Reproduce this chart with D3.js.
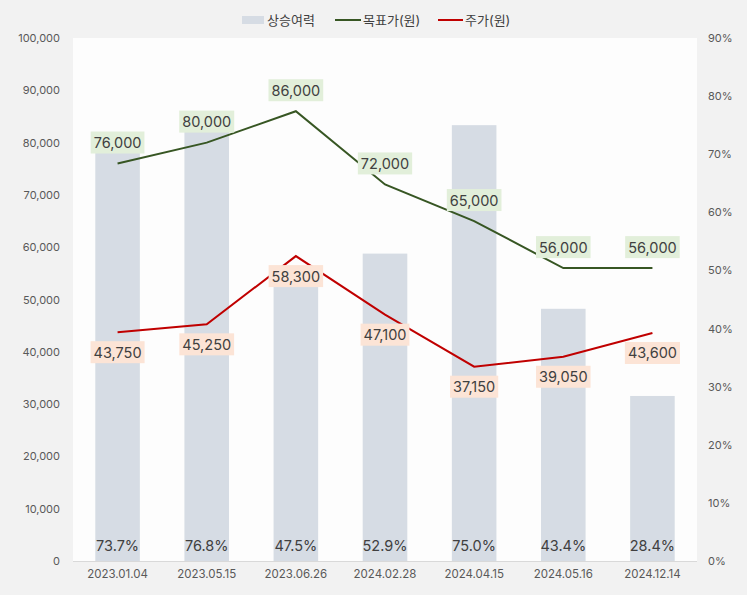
<!DOCTYPE html>
<html><head><meta charset="utf-8">
<script src="https://cdn.jsdelivr.net/npm/d3@7"></script>
<style>
body{margin:0;background:#f2f2f2;}
svg{display:block;font-family:Inter,"Noto Sans CJK KR",sans-serif;}
</style></head>
<body><svg id="c" width="747" height="595"></svg>
<script>
const categories = ["2023.01.04","2023.05.15","2023.06.26","2024.02.28","2024.04.15","2024.05.16","2024.12.14"];
const upside = [73.7,76.8,47.5,52.9,75.0,43.4,28.4];
const target = [76000,80000,86000,72000,65000,56000,56000];
const price = [43750,45250,58300,47100,37150,39050,43600];
const leftTicks = [0,10000,20000,30000,40000,50000,60000,70000,80000,90000,100000];
const rightTicks = [0,10,20,30,40,50,60,70,80,90];
const legendNames = ["상승여력","목표가(원)","주가(원)"];

const FONT = "Inter,'Noto Sans CJK KR',sans-serif";
const svg = d3.select("#c");
const m = {l:73, r:697, t:38, b:561};
svg.append("rect").attr("x",m.l).attr("y",m.t).attr("width",m.r-m.l).attr("height",m.b-m.t).attr("fill","#fdfdfd");

const x = d3.scaleBand().domain(categories).range([m.l,m.r]).paddingInner(0.5).paddingOuter(0.25);
const yL = d3.scaleLinear().domain([0,100000]).range([m.b,m.t]);
const yR = d3.scaleLinear().domain([0,90]).range([m.b,m.t]);
const fmt = d3.format(",");

// bars
svg.append("g").selectAll("rect").data(categories).join("rect")
  .attr("x",d=>x(d)).attr("width",x.bandwidth())
  .attr("y",(d,i)=>yR(upside[i])).attr("height",(d,i)=>m.b-yR(upside[i]))
  .attr("fill","#d6dce4");
svg.append("g").selectAll("text").data(categories).join("text")
  .attr("x",d=>x(d)+x.bandwidth()/2).attr("y",m.b-16)
  .attr("text-anchor","middle").attr("dominant-baseline","central").attr("font-size",14.5).attr("fill","#404040")
  .text((d,i)=>upside[i].toFixed(1)+"%");

// axes
const gL = svg.append("g").attr("transform",`translate(${m.l},0)`)
  .call(d3.axisLeft(yL).tickValues(leftTicks).tickFormat(fmt).tickSize(0).tickPadding(13));
const gR = svg.append("g").attr("transform",`translate(${m.r},0)`)
  .call(d3.axisRight(yR).tickValues(rightTicks).tickFormat(d=>d+"%").tickSize(0).tickPadding(11));
const gX = svg.append("g").attr("transform",`translate(0,${m.b})`)
  .call(d3.axisBottom(x).tickSize(0).tickPadding(9));
[gL,gR,gX].forEach(g=>{g.select(".domain").remove();g.selectAll("text").attr("font-size",11).attr("fill","#595959").attr("font-family",FONT);});
gX.selectAll("text").attr("font-size",11.5);
svg.append("line").attr("x1",m.l).attr("x2",m.r).attr("y1",m.b+0.5).attr("y2",m.b+0.5).attr("stroke","#d9d9d9");

// lines
const cx = d=>x(d)+x.bandwidth()/2;
const lineT = d3.line().x((d,i)=>cx(categories[i])).y(d=>yL(d));
svg.append("path").datum(target).attr("d",lineT).attr("fill","none").attr("stroke","#375623").attr("stroke-width",2);
svg.append("path").datum(price).attr("d",lineT).attr("fill","none").attr("stroke","#c00000").attr("stroke-width",2);

function labels(vals, dy, bg){
  const g = svg.append("g");
  vals.forEach((v,i)=>{
    const t = g.append("text").attr("x",cx(categories[i])).attr("y",yL(v)+dy)
      .attr("text-anchor","middle").attr("dominant-baseline","central")
      .attr("font-size",14.5).attr("fill","#404040").text(fmt(v));
    const b = t.node().getBBox();
    g.insert("rect","text").attr("x",b.x-3).attr("y",yL(v)+dy-11).attr("width",b.width+6).attr("height",22).attr("fill",bg);
  });
  g.selectAll("text").raise();
}
labels(target,-21,"#e2efda");
labels(price,20,"#fce4d6");

// legend
const lg = svg.append("g").attr("font-size",13).attr("fill","#404040");
lg.append("rect").attr("x",242).attr("y",16).attr("width",22).attr("height",8).attr("fill","#d6dce4");
lg.append("text").attr("x",267).attr("y",20).attr("dominant-baseline","central").attr("fill","#404040").text(legendNames[0]);
lg.append("line").attr("x1",335).attr("x2",361).attr("y1",20).attr("y2",20).attr("stroke","#375623").attr("stroke-width",2);
lg.append("text").attr("x",363).attr("y",20).attr("dominant-baseline","central").attr("fill","#404040").text(legendNames[1]);
lg.append("line").attr("x1",438).attr("x2",463).attr("y1",20).attr("y2",20).attr("stroke","#c00000").attr("stroke-width",2);
lg.append("text").attr("x",465).attr("y",20).attr("dominant-baseline","central").attr("fill","#404040").text(legendNames[2]);
</script></body></html>
